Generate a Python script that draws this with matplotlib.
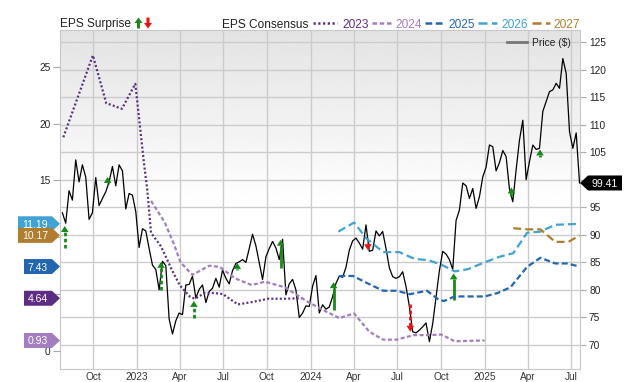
import numpy as np
import pandas as pd
import matplotlib
matplotlib.use('Agg')
import matplotlib.pyplot as plt
from matplotlib.patches import Polygon
from matplotlib.lines import Line2D
from matplotlib.transforms import IdentityTransform

plt.rcParams['font.family'] = ['Liberation Sans', 'DejaVu Sans']

# ---------------- data ----------------
price_start = '2022-07-29'
price = [94.0, 92.1, 98.0, 96.3, 103.6, 99.6, 102.7, 100.5, 92.8, 94.0,
         100.4, 95.3, 96.6, 97.8, 99.6, 102.4, 98.9, 102.7, 101.6, 94.7,
         97.5, 97.2, 94.2, 87.7, 91.1, 90.7, 87.5, 84.5, 83.7, 80.0,
         85.2, 84.4, 74.7, 72.0, 74.4, 75.8, 75.5, 80.9, 81.0, 82.5,
         78.5, 80.1, 80.9, 77.7, 79.7, 80.3, 82.1, 80.5, 83.6, 82.1,
         81.1, 83.5, 84.8, 85.1, 85.5, 85.0, 87.5, 90.1, 88.0, 85.0,
         81.9, 86.0, 87.5, 88.8, 87.6, 85.5, 89.2, 79.1, 81.1, 81.9,
         80.0, 75.0, 75.8, 77.1, 77.0, 80.7, 82.6, 75.8, 77.3, 76.5,
         76.9, 78.8, 81.2, 82.5, 82.3, 84.1, 87.2, 88.9, 89.4, 88.5,
         87.4, 91.8, 87.0, 87.2, 90.7, 89.8, 90.6, 87.5, 84.0, 82.4,
         82.1, 82.4, 83.3, 80.6, 77.0, 72.4, 72.2, 72.7, 73.3, 74.0,
         70.6, 73.9, 78.7, 83.5, 87.0, 86.5, 85.5, 83.7, 92.6, 94.5,
         99.4, 98.9, 96.6, 98.4, 94.8, 96.9, 100.5, 102.3, 106.3, 106.0,
         101.6, 103.1, 105.3, 104.2, 98.3, 96.0, 101.8, 107.2, 110.8, 100.0,
         103.3, 106.3, 105.5, 105.7, 112.4, 114.2, 116.0, 116.3, 117.5, 116.6,
         122.0, 119.3, 108.7, 105.7, 108.5, 99.41]

eps_2023_dates = ['2022-07-31', '2022-10-01', '2022-10-29', '2022-12-01', '2022-12-29',
                  '2023-01-16', '2023-01-23', '2023-01-31', '2023-02-21', '2023-03-15',
                  '2023-04-01', '2023-04-22', '2023-05-03', '2023-05-24', '2023-06-14',
                  '2023-07-01', '2023-08-01', '2023-08-30', '2023-10-04', '2023-11-08',
                  '2023-12-15']
eps_2023 = [18.8, 26.0, 21.8, 21.3, 23.5, 16.6, 14.2, 10.4, 9.2, 7.2,
            5.8, 4.8, 4.6, 5.1, 5.1, 5.0, 4.1, 4.3, 4.6, 4.6, 4.64]

eps_2024_dates = ['2023-01-31', '2023-03-01', '2023-03-19', '2023-04-03', '2023-04-21',
                  '2023-04-28', '2023-06-02', '2023-06-24', '2023-07-26', '2023-08-30',
                  '2023-09-27', '2023-11-08', '2023-12-27', '2024-02-01', '2024-03-01',
                  '2024-04-01', '2024-05-03', '2024-06-01', '2024-06-29', '2024-08-04',
                  '2024-09-08', '2024-10-01', '2024-10-29', '2024-12-31']
eps_2024 = [13.2, 11.3, 9.5, 7.8, 7.0, 6.7, 7.5, 7.4, 6.4, 5.8,
            6.1, 5.6, 4.3, 3.5, 2.9, 3.3, 1.7, 1.0, 1.0, 1.4,
            1.4, 1.45, 0.86, 0.93]

eps_2025_dates = ['2024-03-01', '2024-03-30', '2024-04-27', '2024-06-01', '2024-06-29',
                  '2024-07-27', '2024-09-01', '2024-09-26', '2024-10-07', '2024-10-29',
                  '2024-12-31', '2025-01-27', '2025-02-23', '2025-03-30', '2025-04-27',
                  '2025-05-28', '2025-06-22', '2025-07-18']
eps_2025 = [6.6, 6.6, 6.0, 5.3, 5.3, 5.0, 5.3, 4.5, 4.4, 4.8,
            4.8, 5.1, 5.6, 7.4, 8.2, 7.7, 7.7, 7.43]

eps_2026_dates = ['2024-02-28', '2024-04-01', '2024-04-27', '2024-06-01', '2024-07-05',
                  '2024-08-06', '2024-09-03', '2024-10-01', '2024-10-29', '2024-11-26',
                  '2024-12-31', '2025-02-01', '2025-03-01', '2025-03-30', '2025-04-27',
                  '2025-05-28', '2025-07-18']
eps_2026 = [10.5, 11.3, 9.9, 8.7, 8.7, 8.1, 8.0, 7.6, 7.0, 7.2,
            7.8, 8.3, 8.6, 10.4, 10.5, 11.1, 11.19]

eps_2027_dates = ['2025-03-01', '2025-03-30', '2025-04-27', '2025-05-28', '2025-06-25',
                  '2025-07-18']
eps_2027 = [10.8, 10.7, 10.7, 9.6, 9.6, 10.17]

surprise_dates = ['2022-08-03', '2022-11-01', '2023-02-21', '2023-05-01', '2023-07-31',
                  '2023-10-30', '2024-02-18', '2024-04-30', '2024-07-28', '2024-10-27',
                  '2025-02-25', '2025-04-26']
surprise_base = [87.6, 99.2, 80.0, 74.9, 83.6, 84.0, 76.4, 88.5, 77.4, 78.2, 97.0, 104.1]
surprise_tip = [91.6, 100.5, 85.1, 78.0, 84.9, 89.1, 81.4, 87.2, 72.4, 83.0, 98.6, 105.5]
surprise_dashed = [True, True, True, True, True, False, False, False, True, False, True, False]

years = ['2023', '2024', '2025', '2026', '2027']
year_colors = ['#5c2d82', '#a47dc0', '#2266b0', '#40a3d3', '#b07c2e']
latest_eps = [4.64, 0.93, 7.43, 11.19, 10.17]
badge_order = ['2026', '2027', '2025', '2023', '2024']

xtick_dates = ['2022-10-01', '2023-01-01', '2023-04-01', '2023-07-01', '2023-10-01',
               '2024-01-01', '2024-04-01', '2024-07-01', '2024-10-01', '2025-01-01',
               '2025-04-01', '2025-07-01']
xtick_labels = ['Oct', '2023', 'Apr', 'Jul', 'Oct', '2024', 'Apr', 'Jul', 'Oct', '2025',
                'Apr', 'Jul']
price_ticks = [70, 75, 80, 85, 90, 95, 100, 105, 110, 115, 120, 125]
price_tick_labels = ['70', '75', '80', '85', '90', '95', '', '105', '110', '115', '120', '125']
eps_ticks = [0, 5, 10, 15, 20, 25]
eps_tick_labels = ['0', '', '', '15', '20', '25']

# ---------------- figure ----------------
W, H = 640, 382
fig = plt.figure(figsize=(W / 100, H / 100), dpi=100)
L, R, T, B = 60, 580, 30, 369
rect = [L / W, 1 - B / H, (R - L) / W, (B - T) / H]

bg = fig.add_axes(rect, zorder=-1)
f = np.linspace(1, 0, 300)
vals = np.where(f > 0.48, 1 - (f - 0.48) / 0.52 * 0.11, 1.0)
bg.imshow(vals[:, None], cmap='gray', vmin=0, vmax=1, aspect='auto',
          extent=[0, 1, 0, 1], interpolation='bilinear')
bg.axis('off')

axp = fig.add_axes(rect)
axp.patch.set_visible(False)
axe = axp.twinx()

price_dates = pd.date_range(price_start, periods=len(price), freq='7D')
axp.plot(price_dates, price, color='black', lw=0.9, zorder=3)

styles = {
    '2023': (0, (0.9, 1.0)),
    '2024': (0, (1.8, 1.1)),
    '2025': (0, (2.7, 1.4)),
    '2026': (0, (3.6, 1.8)),
    '2027': (0, (3.6, 1.8)),
}
series = {
    '2023': (eps_2023_dates, eps_2023),
    '2024': (eps_2024_dates, eps_2024),
    '2025': (eps_2025_dates, eps_2025),
    '2026': (eps_2026_dates, eps_2026),
    '2027': (eps_2027_dates, eps_2027),
}
for yr, col in zip(years, year_colors):
    d, v = series[yr]
    axe.plot(pd.to_datetime(d), v, color=col, lw=1.6, ls=styles[yr],
             dash_capstyle='butt')

x0, x1 = pd.Timestamp('2022-07-24'), pd.Timestamp('2025-07-19')
axp.set_xlim(x0, x1)
axp.set_ylim(65.64, 127.18)
axe.set_ylim(-1.58, 28.23)

axp.set_xticks(pd.to_datetime(xtick_dates))
axp.set_xticklabels(xtick_labels)
axp.set_yticks(price_ticks)
axp.set_yticklabels(price_tick_labels)
axe.set_yticks(eps_ticks)
axe.set_yticklabels(eps_tick_labels)
axp.yaxis.tick_right()
axe.yaxis.tick_left()

axp.grid(True, color='#cccccc', lw=1)
axp.set_axisbelow(True)
axp.tick_params(axis='x', length=0, pad=2, labelsize=7.3, labelcolor='#333333')
axp.tick_params(axis='y', length=4.5, pad=2, width=0.8, color='#aaaaaa',
                labelsize=7.3, labelcolor='#222222')
axe.tick_params(axis='y', length=5, pad=2, width=0.8, color='#aaaaaa',
                labelsize=7.3, labelcolor='#222222')
for s in axp.spines.values():
    s.set_color('#c8c8c8')
for s in axe.spines.values():
    s.set_visible(False)

# ---------------- surprise arrows ----------------
def block_arrow(xc, yb, yt, hw=3.8, hl=6.0, sw=1.6):
    d = 1 if yt > yb else -1
    yh = yt - d * hl
    return [(xc - sw, yb), (xc + sw, yb), (xc + sw, yh), (xc + hw, yh), (xc, yt),
            (xc - hw, yh), (xc - sw, yh)]

for dt, yb, yt, dsh in zip(surprise_dates, surprise_base, surprise_tip, surprise_dashed):
    xnum = matplotlib.dates.date2num(pd.Timestamp(dt))
    px, pb = axp.transData.transform((xnum, yb))
    _, pt = axp.transData.transform((xnum, yt))
    col = '#178a17' if yt > yb else '#ee1111'
    d = 1 if pt > pb else -1
    hl = min(6.0, abs(pt - pb))
    yh = pt - d * hl
    head = Polygon([(px - 3.8, yh), (px + 3.8, yh), (px, pt)], closed=True,
                   transform=IdentityTransform(), fc=col, ec='none', zorder=6)
    axp.add_patch(head)
    if abs(yh - pb) > 0.5:
        ln = Line2D([px, px], [pb, yh], transform=IdentityTransform(), color=col,
                    lw=2.0, ls=(0, (1.3, 0.9)) if dsh else '-', zorder=6,
                    solid_capstyle='butt', dash_capstyle='butt')
        axp.add_line(ln)

# ---------------- badges ----------------
def badge(xtip, yd, text, color, side):
    hh = 7.5
    tip = 8
    bw = 34 if len(text) >= 5 else 28
    if side == 'left':
        xb1 = xtip - tip
        xb0 = xb1 - bw
        verts = [(xb0, yd - hh), (xb1, yd - hh), (xtip, yd), (xb1, yd + hh), (xb0, yd + hh)]
    else:
        xb0 = xtip + tip
        xb1 = xb0 + bw
        verts = [(xtip, yd), (xb0, yd - hh), (xb1, yd - hh), (xb1, yd + hh), (xb0, yd + hh)]
    fig.add_artist(Polygon(verts, closed=True, transform=IdentityTransform(),
                           fc=color, ec='none', zorder=5))
    fig.text((xb0 + xb1) / 2 / W, yd / H, text, color='white', fontsize=7.5,
             ha='center', va='center_baseline', zorder=6)

xl = axe.get_xlim()[0]
for yr in badge_order:
    i = years.index(yr)
    yd = axe.transData.transform((xl, latest_eps[i]))[1]
    badge(L, yd, f'{latest_eps[i]:.2f}', year_colors[i], 'left')

yd = axp.transData.transform((xl, price[-1]))[1]
badge(R, yd, f'{price[-1]:.2f}', 'black', 'right')

# ---------------- legends ----------------
ly = H - 23
fig.text(60 / W, ly / H, 'EPS Surprise', fontsize=8.6, color='#222222',
         ha='left', va='center_baseline')
fig.add_artist(Polygon(block_arrow(138.5, ly - 5.5, ly + 5.5, hw=4, hl=5.5, sw=1.5),
                       closed=True, transform=IdentityTransform(), fc='#178a17', ec='none'))
fig.add_artist(Polygon(block_arrow(148, ly + 5.5, ly - 5.5, hw=4, hl=5.5, sw=1.5),
                       closed=True, transform=IdentityTransform(), fc='#ee1111', ec='none'))
fig.text(222 / W, ly / H, 'EPS Consensus', fontsize=8.6, color='#222222',
         ha='left', va='center_baseline')
leg_pos = [(313, 337, 342), (372, 392, 395), (425, 445, 448), (478, 497, 501), (532, 550, 553)]
for (a, b, tx), yr, col in zip(leg_pos, years, year_colors):
    fig.add_artist(Line2D([a, b], [ly, ly], transform=IdentityTransform(), color=col,
                          lw=1.8, ls=styles[yr], dash_capstyle='butt'))
    fig.text(tx / W, ly / H, yr, fontsize=8.6, color=col, ha='left', va='center_baseline')

py = H - 42
fig.add_artist(Line2D([507, 527], [py, py], transform=IdentityTransform(),
                      color='#777777', lw=2))
fig.text(532 / W, py / H, 'Price ($)', fontsize=7.4, color='#222222',
         ha='left', va='center_baseline')

fig.savefig('out.png', dpi=100)
